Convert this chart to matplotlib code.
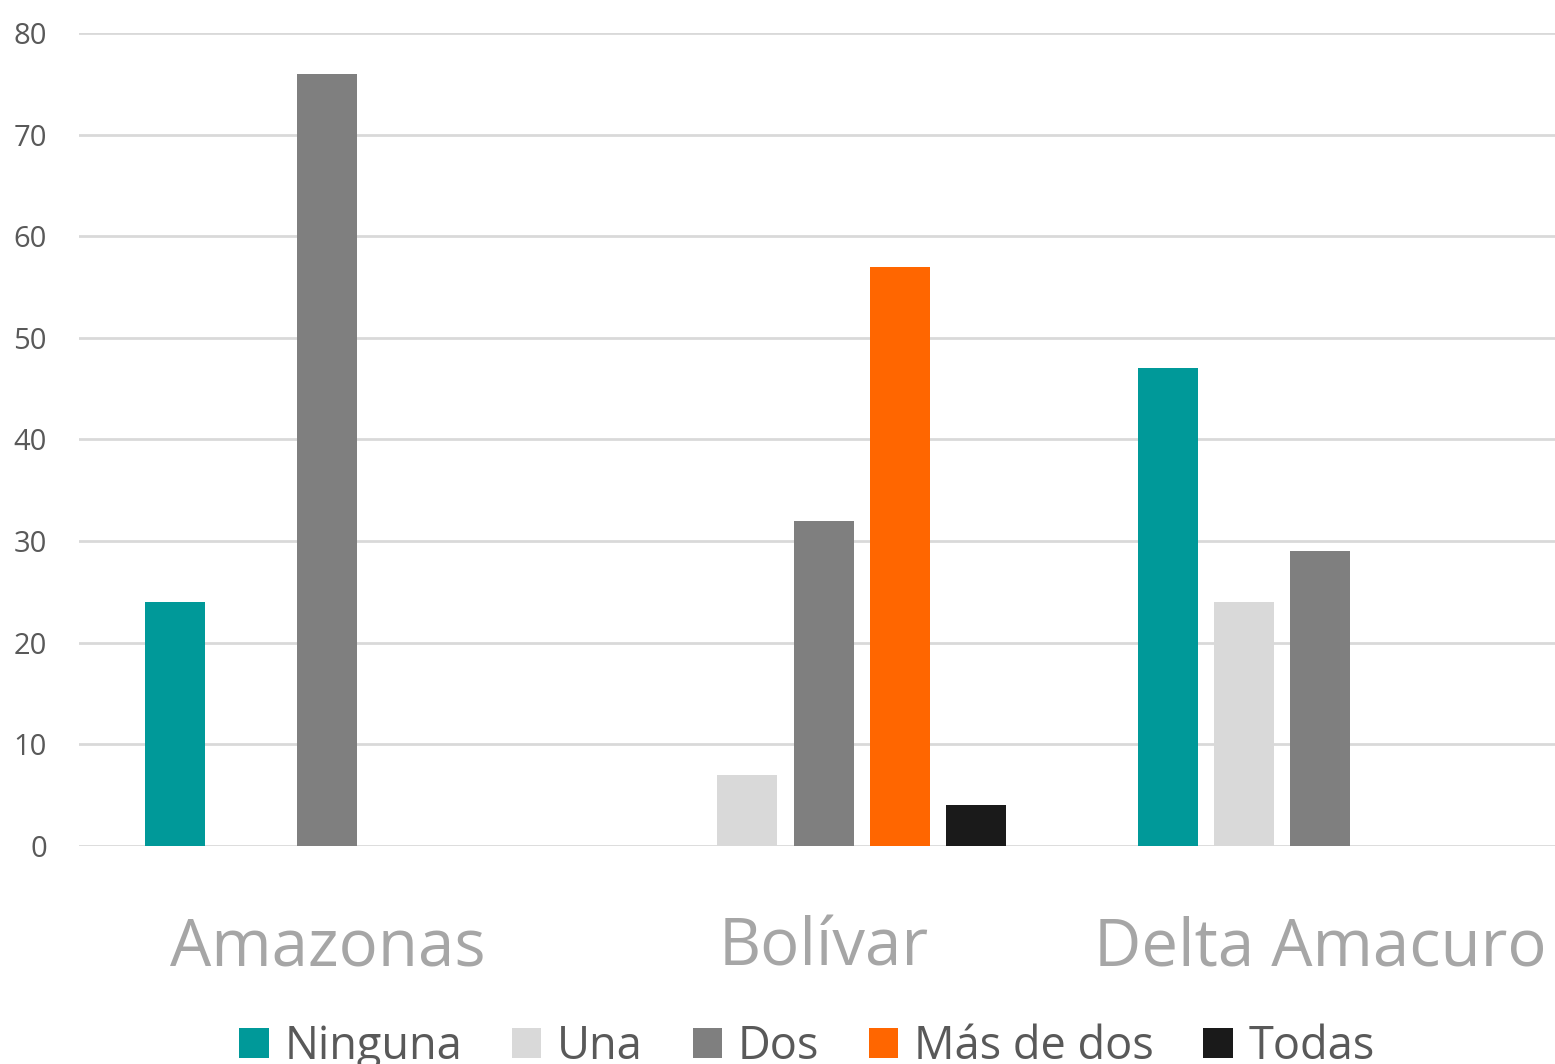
import matplotlib
matplotlib.use("Agg")
import matplotlib.pyplot as plt
import numpy as np

plt.rcParams['font.family'] = ['Open Sans', 'DejaVu Sans']

estados = ["Amazonas", "Bolívar", "Delta Amacuro"]
series = ["Ninguna", "Una", "Dos", "Más de dos", "Todas"]
colores = ["#009999", "#D9D9D9", "#7F7F7F", "#FF6600", "#1A1A1A"]

ninguna = [24, 0, 47]
una = [0, 7, 24]
dos = [76, 32, 29]
mas_de_dos = [0, 57, 0]
todas = [0, 4, 0]
valores = [ninguna, una, dos, mas_de_dos, todas]

fig = plt.figure(figsize=(15.55, 10.64), dpi=100)
ax = fig.add_axes([79/1555, 1-846/1064, 1489.5/1555, (846-33)/1064])

x = np.arange(len(estados))
slot = 0.1537
ancho = 0.1208
for i, (nombre, vals) in enumerate(zip(series, valores)):
    ax.bar(x + (i-2)*slot, vals, ancho, color=colores[i], label=nombre, zorder=3, edgecolor='none')

ax.set_xlim(-0.5, 2.5)
ax.set_ylim(0, 80)
ax.set_yticks(range(0, 81, 10))
ax.yaxis.grid(True, color="#D9D9D9", linewidth=2)
ax.set_axisbelow(True)
for s in ax.spines.values():
    s.set_visible(False)
ax.tick_params(axis='y', length=0, pad=23, labelsize=21, labelcolor="#595959")
ax.set_xticks(x)
ax.set_xticklabels(estados, fontsize=47, color="#A6A6A6")
ax.tick_params(axis='x', length=0, pad=50)

fig.legend(loc='upper center', bbox_to_anchor=(0.519, 1-1024/1064), ncol=5, frameon=False,
           fontsize=32.5, labelcolor="#595959", handlelength=0.65, handleheight=0.65,
           handletextpad=0.35, columnspacing=1.1, borderaxespad=0, borderpad=0)

fig.savefig("out.png", dpi=100)
